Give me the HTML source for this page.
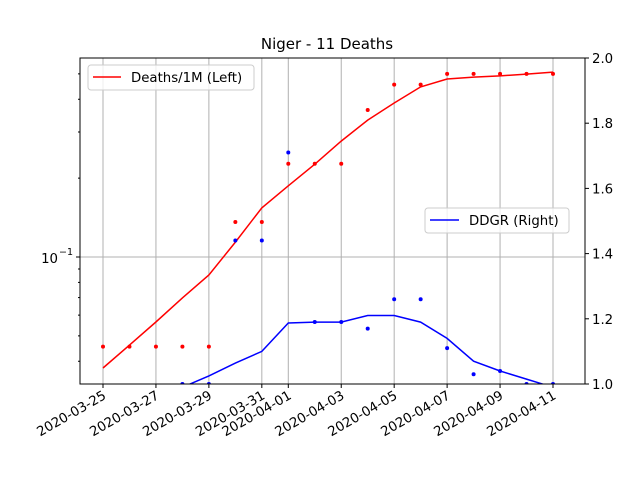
<!DOCTYPE html>
<html><head><meta charset="utf-8"><style>
body{margin:0;background:#fff}
svg{display:block;font-family:"DejaVu Sans","Liberation Sans",sans-serif}
</style></head><body>
<svg id="chart" width="640" height="480" viewBox="0 0 640 480">
<text x="327" y="49" font-size="15" text-anchor="middle">Niger - 11 Deaths</text>
<defs><clipPath id="pc"><rect x="80" y="58" width="505" height="326"/></clipPath></defs>
<g id="grid"></g>
<g id="marks" clip-path="url(#pc)"></g>
<rect x="80" y="58" width="505" height="326" fill="none" stroke="#000" stroke-width="1"/>
<g id="axes"></g>
<g>
<rect x="88" y="65" width="166" height="25" rx="3" fill="#fff" fill-opacity="0.8" stroke="#ccc"/>
<line x1="93" y1="77" x2="121" y2="77" stroke="red" stroke-width="1.5"/>
<text x="131" y="82" font-size="13.3">Deaths/1M (Left)</text>
</g>
<g>
<rect x="425" y="208" width="144" height="25" rx="3" fill="#fff" fill-opacity="0.8" stroke="#ccc"/>
<line x1="430" y1="220" x2="459" y2="220" stroke="blue" stroke-width="1.5"/>
<text x="469" y="225" font-size="13.3">DDGR (Right)</text>
</g>
</svg>
<script>
const dates=["2020-03-25","2020-03-26","2020-03-27","2020-03-28","2020-03-29","2020-03-30","2020-03-31","2020-04-01","2020-04-02","2020-04-03","2020-04-04","2020-04-05","2020-04-06","2020-04-07","2020-04-08","2020-04-09","2020-04-10","2020-04-11"];
const deathsDots=[0.0455,0.0455,0.0455,0.0455,0.0455,0.136,0.136,0.227,0.227,0.227,0.364,0.455,0.455,0.5,0.5,0.5,0.5,0.5];
const deathsLine=[0.0377,0.0461,0.0565,0.0698,0.0854,0.114,0.154,0.187,0.226,0.277,0.333,0.387,0.446,0.478,0.486,0.491,0.499,0.508];
const ddgrDots=[null,null,null,1.0,1.0,1.44,1.44,1.71,1.19,1.19,1.17,1.26,1.26,1.11,1.03,1.04,1.0,1.0];
const ddgrLine=[null,null,0.95,0.99,1.025,1.064,1.10,1.187,1.19,1.19,1.21,1.21,1.19,1.14,1.07,1.04,1.015,0.99];
const xTickIdx=[0,2,4,6,7,9,11,13,15,17];
const rightTicks=[1.0,1.2,1.4,1.6,1.8,2.0];
const leftMinor=[0.04,0.05,0.06,0.07,0.08,0.09,0.2,0.3,0.4,0.5];
const NS="http://www.w3.org/2000/svg";
const X=i=>103+i*(450/17);
const YL=v=>257-262*Math.log10(v/0.1);
const YR=v=>384-(v-1)*326;
function mk(t,a,p){const e=document.createElementNS(NS,t);for(const k in a)e.setAttribute(k,a[k]);p.appendChild(e);return e;}
const grid=document.getElementById('grid'),marks=document.getElementById('marks'),axes=document.getElementById('axes');
xTickIdx.forEach(i=>{
 const g=mk('line',{x1:X(i),x2:X(i),y1:58,y2:384,stroke:'#b0b0b0','stroke-width':1},grid);
 
 
 mk('line',{x1:X(i),x2:X(i),y1:384,y2:388,stroke:'#000'},axes);
 const t=mk('text',{x:X(i)+4,y:398,'font-size':13.3,'text-anchor':'end',transform:`rotate(-30 ${X(i)+4} 398)`},axes);
 t.textContent=dates[i];
 
 
});
const hg=mk('line',{x1:80,x2:585,y1:YL(0.1),y2:YL(0.1),stroke:'#b0b0b0'},grid);


mk('line',{x1:76,x2:80,y1:YL(0.1),y2:YL(0.1),stroke:'#000'},axes);
const lt=mk('text',{x:58,y:YL(0.1)+6,'font-size':13.3,'text-anchor':'end'},axes);
lt.textContent='10';


const sup=mk('text',{x:59,y:YL(0.1)-2,'font-size':9.5},axes);
sup.textContent='\u22121';


leftMinor.forEach(v=>mk('line',{x1:78,x2:80,y1:YL(v),y2:YL(v),stroke:'#000'},axes));
rightTicks.forEach(v=>{
 mk('line',{x1:585,x2:589,y1:YR(v),y2:YR(v),stroke:'#000'},axes);
 const t=mk('text',{x:592,y:YR(v)+5,'font-size':13.3},axes);
 t.textContent=v.toFixed(1);
 
 
});
function line(arr,Y,col,name){
 const pts=[];arr.forEach((v,i)=>{if(v!=null)pts.push(X(i).toFixed(1)+','+Y(v).toFixed(1));});
 const p=mk('polyline',{points:pts.join(' '),fill:'none',stroke:col,'stroke-width':1.5},marks);
 
 
}
function dots(arr,Y,col,name){
 arr.forEach((v,i)=>{if(v==null)return;
  const c=mk('circle',{cx:X(i),cy:Y(v),r:2,fill:col},marks);
  
  
 });
}
line(deathsLine,YL,'red','deaths-line');
dots(deathsDots,YL,'red','deaths-point');
line(ddgrLine,YR,'blue','ddgr-line');
dots(ddgrDots,YR,'blue','ddgr-point');
</script>
</body></html>
